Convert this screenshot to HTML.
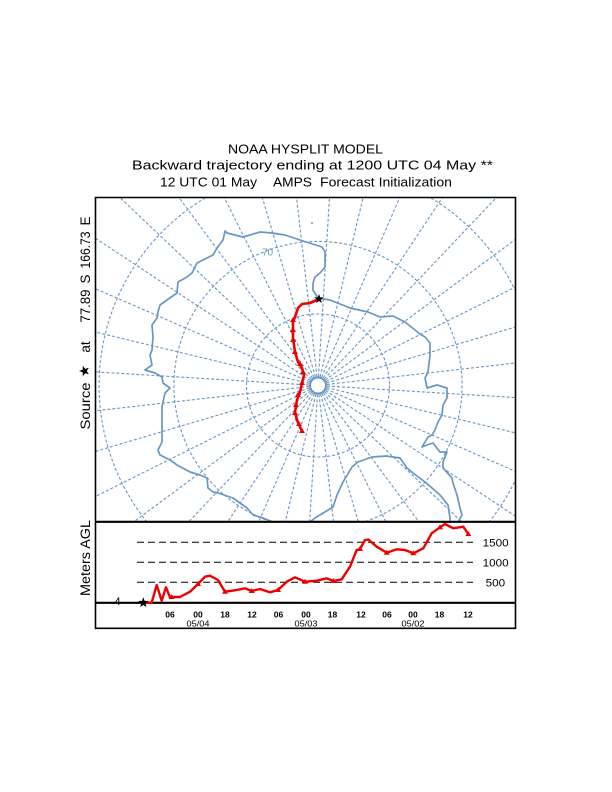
<!DOCTYPE html>
<html>
<head>
<meta charset="utf-8">
<style>
html,body{margin:0;padding:0;background:#fff;}
svg{display:block;}
text{font-family:"Liberation Sans",Arial,sans-serif;}
</style>
</head>
<body>
<svg width="612" height="792" viewBox="0 0 612 792" xmlns="http://www.w3.org/2000/svg">
<rect x="0" y="0" width="612" height="792" fill="#fff"/>

<!-- Titles -->
<text x="228" y="153.3" font-size="12.5" textLength="155" lengthAdjust="spacingAndGlyphs" fill="#000">NOAA HYSPLIT MODEL</text>
<text x="132" y="169.3" font-size="12.8" textLength="361" lengthAdjust="spacingAndGlyphs" fill="#000">Backward trajectory ending at 1200 UTC 04 May **</text>
<text x="160" y="186.5" font-size="12.5" textLength="97" lengthAdjust="spacingAndGlyphs" fill="#000">12 UTC 01 May</text>
<text x="273" y="186.5" font-size="12.5" textLength="39" lengthAdjust="spacingAndGlyphs" fill="#000">AMPS</text>
<text x="320" y="186.5" font-size="12.5" textLength="132" lengthAdjust="spacingAndGlyphs" fill="#000">Forecast Initialization</text>

<!-- Left labels (rotated) -->
<g fill="#000" font-size="13.5">
  <text transform="translate(90,406) rotate(-90)" text-anchor="middle" textLength="47" lengthAdjust="spacingAndGlyphs">Source</text>
  <text transform="translate(90,347) rotate(-90)" text-anchor="middle">at</text>
  <text transform="translate(90,306) rotate(-90)" text-anchor="middle" textLength="33" lengthAdjust="spacingAndGlyphs">77.89</text>
  <text transform="translate(90,279) rotate(-90)" text-anchor="middle">S</text>
  <text transform="translate(90,250) rotate(-90)" text-anchor="middle" textLength="37" lengthAdjust="spacingAndGlyphs">166.73</text>
  <text transform="translate(90,221) rotate(-90)" text-anchor="middle">E</text>
  <text transform="translate(90,558) rotate(-90)" text-anchor="middle" textLength="76" lengthAdjust="spacingAndGlyphs">Meters AGL</text>
</g>
<!-- star in left label -->
<polygon transform="translate(84.5,371) rotate(-90)" fill="#000"
 points="0,-5.5 1.3,-1.8 5.2,-1.7 2.1,0.7 3.2,4.4 0,2.2 -3.2,4.4 -2.1,0.7 -5.2,-1.7 -1.3,-1.8"/>

<defs>
  <clipPath id="mapclip"><rect x="95" y="197" width="421" height="325"/></clipPath>
</defs>

<!-- Map -->
<g clip-path="url(#mapclip)">
  <g transform="translate(318,385.5)" stroke="#6a96c4" stroke-width="1.1" fill="none" stroke-dasharray="3,2">
    <circle r="71.5"/>
    <circle r="144.1"/>
    <circle r="218.9"/>
    <circle r="297.4"/>
    <g>
      <line x1="0" y1="-9" x2="0" y2="-420" transform="rotate(3.5)"/>
      <line x1="0" y1="-9" x2="0" y2="-420" transform="rotate(13.5)"/>
      <line x1="0" y1="-9" x2="0" y2="-420" transform="rotate(23.5)"/>
      <line x1="0" y1="-9" x2="0" y2="-420" transform="rotate(33.5)"/>
      <line x1="0" y1="-9" x2="0" y2="-420" transform="rotate(43.5)"/>
      <line x1="0" y1="-9" x2="0" y2="-420" transform="rotate(53.5)"/>
      <line x1="0" y1="-9" x2="0" y2="-420" transform="rotate(63.5)"/>
      <line x1="0" y1="-9" x2="0" y2="-420" transform="rotate(73.5)"/>
      <line x1="0" y1="-9" x2="0" y2="-420" transform="rotate(83.5)"/>
      <line x1="0" y1="-9" x2="0" y2="-420" transform="rotate(93.5)"/>
      <line x1="0" y1="-9" x2="0" y2="-420" transform="rotate(103.5)"/>
      <line x1="0" y1="-9" x2="0" y2="-420" transform="rotate(113.5)"/>
      <line x1="0" y1="-9" x2="0" y2="-420" transform="rotate(123.5)"/>
      <line x1="0" y1="-9" x2="0" y2="-420" transform="rotate(133.5)"/>
      <line x1="0" y1="-9" x2="0" y2="-420" transform="rotate(143.5)"/>
      <line x1="0" y1="-9" x2="0" y2="-420" transform="rotate(153.5)"/>
      <line x1="0" y1="-9" x2="0" y2="-420" transform="rotate(163.5)"/>
      <line x1="0" y1="-9" x2="0" y2="-420" transform="rotate(173.5)"/>
      <line x1="0" y1="-9" x2="0" y2="-420" transform="rotate(183.5)"/>
      <line x1="0" y1="-9" x2="0" y2="-420" transform="rotate(193.5)"/>
      <line x1="0" y1="-9" x2="0" y2="-420" transform="rotate(203.5)"/>
      <line x1="0" y1="-9" x2="0" y2="-420" transform="rotate(213.5)"/>
      <line x1="0" y1="-9" x2="0" y2="-420" transform="rotate(223.5)"/>
      <line x1="0" y1="-9" x2="0" y2="-420" transform="rotate(233.5)"/>
      <line x1="0" y1="-9" x2="0" y2="-420" transform="rotate(243.5)"/>
      <line x1="0" y1="-9" x2="0" y2="-420" transform="rotate(253.5)"/>
      <line x1="0" y1="-9" x2="0" y2="-420" transform="rotate(263.5)"/>
      <line x1="0" y1="-9" x2="0" y2="-420" transform="rotate(273.5)"/>
      <line x1="0" y1="-9" x2="0" y2="-420" transform="rotate(283.5)"/>
      <line x1="0" y1="-9" x2="0" y2="-420" transform="rotate(293.5)"/>
      <line x1="0" y1="-9" x2="0" y2="-420" transform="rotate(303.5)"/>
      <line x1="0" y1="-9" x2="0" y2="-420" transform="rotate(313.5)"/>
      <line x1="0" y1="-9" x2="0" y2="-420" transform="rotate(323.5)"/>
      <line x1="0" y1="-9" x2="0" y2="-420" transform="rotate(333.5)"/>
      <line x1="0" y1="-9" x2="0" y2="-420" transform="rotate(343.5)"/>
      <line x1="0" y1="-9" x2="0" y2="-420" transform="rotate(353.5)"/>
    </g>
  </g>
  <circle cx="318" cy="385.5" r="8" fill="none" stroke="#6a96c4" stroke-width="2"/>

  <!-- Coastline -->
  <polyline fill="none" stroke="#6a96c4" stroke-width="1.7" stroke-linejoin="round"
   points="318,298 330,300 350,308 368,312 380,317 393,316 405,322 415,330 420,334 425,337 430,343 430,355 428,372 425,378 427,388 437,385 447,388 447,398 443,405 442,415 438,422 435,430 432,435 428,437 425,442 422,447 427,445 433,443 440,452 447,452 443,462 443,468 452,478 453,483 457,495 460,508 462,515 458,522 458,540 452,540 450,522 450,518 448,505 440,495 432,488 425,482 413,473 407,468 400,458 386,456 372,457 358,462 352,467 343,482 337,495 333,507 315,518 300,530 273,530 273,522 263,518 253,515 247,508 233,498 218,493 213,492 208,488 207,478 200,475 190,472 177,465 170,460 160,455 158,450 162,442 162,407 163,402 165,393 170,388 163,383 162,377 155,373 145,370 152,365 150,355 152,350 153,337 152,325 157,318 158,312 160,305 167,300 177,293 178,282 187,277 192,273 197,263 203,260 213,255 217,248 223,240 225,231 227,233 243,237 260,232 272,233 285,235 303,241 322,247 325,252 325,267 320,273 315,277 313,283 313,290 318,298"/>
  <circle cx="312" cy="223" r="1" fill="#6a96c4"/>
  <text x="267.5" y="255.5" font-size="10" text-anchor="middle" fill="#6a96c4">70</text>

  <!-- Trajectory on map -->
  <polyline fill="none" stroke="#ee0000" stroke-width="2.6" stroke-linejoin="round" stroke-linecap="round"
   points="319,299 310,303 302,304 298,308 295,317 293,322 293,338 295,352 298,362 302,368 304,375 302,383 300,392 297,400 295,412 297,420 300,427 302,431"/>
  <g fill="#ee0000">
    <polygon points="293,317 296,322 290,322"/>
    <polygon points="293,327 296,332 290,332"/>
    <polygon points="293,337 296,342 290,342"/>
    <polygon points="295,349 298,354 292,354"/>
    <polygon points="300,361 303,366 297,366"/>
    <polygon points="303,369 306,374 300,374"/>
    <polygon points="302,380 305,385 299,385"/>
    <polygon points="298,392 301,397 295,397"/>
    <polygon points="296,402 299,407 293,407"/>
    <polygon points="295,410 298,415 292,415"/>
    <polygon points="299,421 302,426 296,426"/>
    <polygon points="302,428 305,433 299,433"/>
  </g>
  <polygon transform="translate(319,299)" fill="#000"
   points="0,-5 1.2,-1.6 4.8,-1.6 1.9,0.6 2.9,4 0,2 -2.9,4 -1.9,0.6 -4.8,-1.6 -1.2,-1.6"/>
</g>

<!-- Frames -->
<g stroke="#000" fill="none">
  <line x1="95" y1="197.5" x2="516" y2="197.5" stroke-width="1.6"/>
  <line x1="95.5" y1="197" x2="95.5" y2="629" stroke-width="1.6"/>
  <line x1="515.5" y1="197" x2="515.5" y2="629" stroke-width="1.6"/>
  <line x1="95" y1="521.8" x2="516" y2="521.8" stroke-width="2.2"/>
  <line x1="95" y1="602.8" x2="516" y2="602.8" stroke-width="2.2"/>
  <line x1="95" y1="628.3" x2="516" y2="628.3" stroke-width="1.6"/>
</g>

<!-- Height panel -->
<g stroke="#000" stroke-width="1" stroke-dasharray="7,4">
  <line x1="137" y1="542.3" x2="473" y2="542.3"/>
  <line x1="137" y1="562.3" x2="473" y2="562.3"/>
  <line x1="137" y1="582.3" x2="473" y2="582.3"/>
</g>
<g font-size="11" fill="#000">
  <text x="482.7" y="546.3" textLength="26" lengthAdjust="spacingAndGlyphs">1500</text>
  <text x="482.7" y="566.3" textLength="26" lengthAdjust="spacingAndGlyphs">1000</text>
  <text x="485.7" y="586.3" textLength="19.5" lengthAdjust="spacingAndGlyphs">500</text>
  <text x="117.5" y="605" text-anchor="middle">4</text>
</g>
<g font-size="8.5" fill="#000" text-anchor="middle" font-weight="bold">
  <text x="170" y="617.5">06</text>
  <text x="198" y="617.5">00</text>
  <text x="225" y="617.5">18</text>
  <text x="252" y="617.5">12</text>
  <text x="278.5" y="617.5">06</text>
  <text x="306" y="617.5">00</text>
  <text x="332.5" y="617.5">18</text>
  <text x="361" y="617.5">12</text>
  <text x="387" y="617.5">06</text>
  <text x="413" y="617.5">00</text>
  <text x="439.5" y="617.5">18</text>
  <text x="468" y="617.5">12</text>
</g>
<g font-size="8.5" fill="#000" text-anchor="middle">
  <text x="198" y="626.5" textLength="23" lengthAdjust="spacingAndGlyphs">05/04</text>
  <text x="306" y="626.5" textLength="23" lengthAdjust="spacingAndGlyphs">05/03</text>
  <text x="413" y="626.5" textLength="23" lengthAdjust="spacingAndGlyphs">05/02</text>
</g>

<polyline fill="none" stroke="#ee0000" stroke-width="2.4" stroke-linejoin="round" stroke-linecap="round"
 points="143,603 151.7,602.5 156.7,585 161.7,600.7 166,587.3 170,597.3 171.7,597 180,597 190,591.7 198,584 205,576.7 210,575.7 218,580 225,591.7 236.7,590 245,588.3 251.7,591 260,589 270,592.3 278,590 286.7,581.7 295,577.3 305,581.7 316.7,580.7 326.7,578.3 333.3,581 341.7,579.3 350,566.7 356.7,550 360,549 365,540 368.3,539.5 376.7,546.7 386.7,552.7 396.7,549.3 405,550 413.3,553.3 423.3,548.3 431.7,533.3 440,527.3 445,524 453.3,528.3 463.3,526.7 468.3,534"/>
<g fill="#ee0000">
  <polygon points="171.7,594 174.7,599 168.7,599"/>
  <polygon points="198,581 201,586 195,586"/>
  <polygon points="225,588.7 228,593.7 222,593.7"/>
  <polygon points="251.7,588 254.7,593 248.7,593"/>
  <polygon points="278,587 281,592 275,592"/>
  <polygon points="305,578.7 308,583.7 302,583.7"/>
  <polygon points="333.3,578 336.3,583 330.3,583"/>
  <polygon points="360,546 363,551 357,551"/>
  <polygon points="386.7,549.7 389.7,554.7 383.7,554.7"/>
  <polygon points="413.3,550.3 416.3,555.3 410.3,555.3"/>
  <polygon points="440,524.3 443,529.3 437,529.3"/>
  <polygon points="468.3,531 471.3,536 465.3,536"/>
</g>
<polygon transform="translate(143.3,602.7)" fill="#000"
 points="0,-5.5 1.3,-1.8 5.2,-1.7 2.1,0.7 3.2,4.4 0,2.2 -3.2,4.4 -2.1,0.7 -5.2,-1.7 -1.3,-1.8"/>
</svg>
</body>
</html>
